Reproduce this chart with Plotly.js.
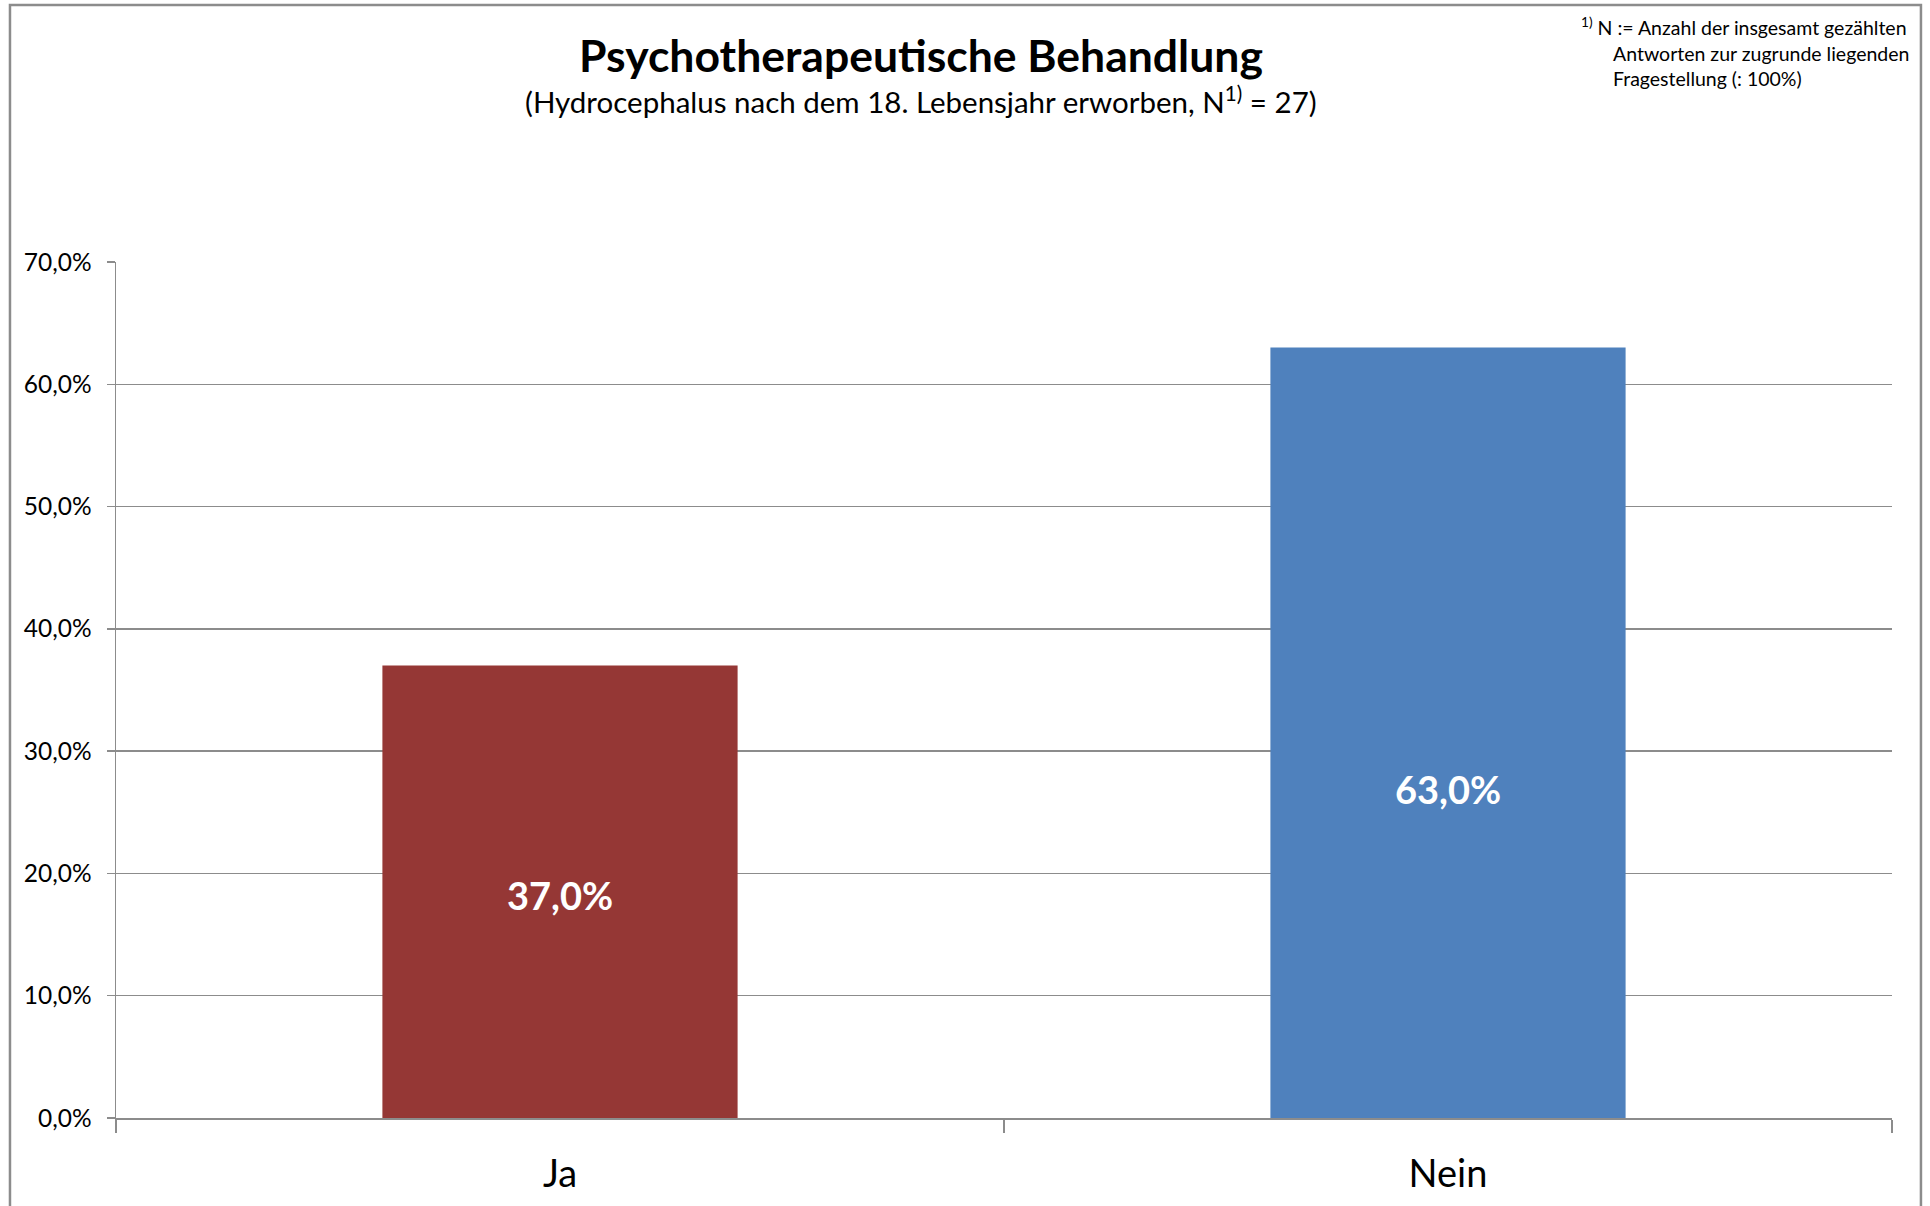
<!DOCTYPE html>
<html>
<head>
<meta charset="utf-8">
<script src="https://cdn.plot.ly/plotly-3.0.1.min.js"></script>
<style>
  html, body { margin: 0; padding: 0; background: #ffffff; }
  #chart { width: 1930px; height: 1206px; }
</style>
</head>
<body>
<div id="chart"></div>
<script>
// ---- data ----
const categories = ["Ja", "Nein"];
const shares = [0.370, 0.630];
const barColors = ["#953735", "#4F81BD"];
const yTickValues = [0, 0.1, 0.2, 0.3, 0.4, 0.5, 0.6, 0.7];
const titleText = "Psychotherapeutische Behandlung";
const subtitleText = "(Hydrocephalus nach dem 18. Lebensjahr erworben, N<sup>1)</sup> = 27)";
const footnoteLines = [
  "<sup>1)</sup> N := Anzahl der insgesamt gezählten",
  "Antworten zur zugrunde liegenden",
  "Fragestellung (: 100%)"
];

const FONT = "Lato, Carlito, Calibri, 'Open Sans', sans-serif";
const GRAY = "#8c8c8c";

// label placement inside the bars (fraction of bar height, as in the reference)
const labelFraction = [0.493, 0.427];

const fmt = v => (v * 100).toFixed(1).replace(".", ",") + "%";

const trace = {
  type: "bar",
  x: categories,
  y: shares,
  marker: { color: barColors, line: { width: 0 } },
  textposition: "none",
  hoverinfo: "x+y"
};

const barLabels = categories.map((c, i) => ({
  text: "<b>" + fmt(shares[i]) + "</b>",
  x: c, y: shares[i] * labelFraction[i],
  xref: "x", yref: "y",
  xanchor: "center", yanchor: "middle",
  showarrow: false,
  font: { family: FONT, size: 38, color: "#ffffff" }
}));

const layout = {
  width: 1930,
  height: 1206,
  margin: { l: 116, r: 38, t: 262, b: 88 },
  paper_bgcolor: "#ffffff",
  plot_bgcolor: "#ffffff",
  separators: ",.",
  showlegend: false,
  bargap: 0.6,
  font: { family: FONT, color: "#000000" },
  xaxis: {
    type: "category",
    showline: true,
    linecolor: GRAY,
    linewidth: 1.5,
    ticks: "outside",
    tickson: "boundaries",
    ticklen: 13,
    tickwidth: 1.5,
    tickcolor: GRAY,
    showgrid: false,
    zeroline: false,
    ticklabelstandoff: 22,
    tickfont: { family: FONT, size: 38, color: "#000000" }
  },
  yaxis: {
    range: [0, 0.7],
    tickvals: yTickValues,
    tickformat: ".1%",
    showline: true,
    linecolor: GRAY,
    linewidth: 1.5,
    ticks: "outside",
    ticklen: 8,
    tickwidth: 1.5,
    tickcolor: GRAY,
    showgrid: true,
    gridcolor: GRAY,
    gridwidth: 1.5,
    zeroline: false,
    ticklabelstandoff: 10,
    tickfont: { family: FONT, size: 24.5, color: "#000000" }
  },
  shapes: [
    {
      type: "rect", xref: "paper", yref: "paper",
      x0: -0.0597, x1: 1.0163, y0: -0.2, y1: 1.3002,
      line: { color: GRAY, width: 2.5 }, fillcolor: "rgba(0,0,0,0)", layer: "below"
    }
  ],
  annotations: [
    {
      text: "<b>" + titleText + "</b>", xref: "paper", yref: "paper",
      x: 0.4533, y: 1.2425, xanchor: "center", yanchor: "middle",
      showarrow: false, font: { family: FONT, size: 44.5, color: "#000000" }
    },
    {
      text: subtitleText, xref: "paper", yref: "paper",
      x: 0.4533, y: 1.1890, xanchor: "center", yanchor: "middle",
      showarrow: false, font: { family: FONT, size: 29.5, color: "#000000" }
    },
    {
      text: footnoteLines[0], xref: "paper", yref: "paper",
      x: 0.8238, y: 1.2750, xanchor: "left", yanchor: "middle",
      showarrow: false, font: { family: FONT, size: 19.5, color: "#000000" }
    },
    {
      text: footnoteLines[1], xref: "paper", yref: "paper",
      x: 0.8418, y: 1.2430, xanchor: "left", yanchor: "middle",
      showarrow: false, font: { family: FONT, size: 19.5, color: "#000000" }
    },
    {
      text: footnoteLines[2], xref: "paper", yref: "paper",
      x: 0.8418, y: 1.2140, xanchor: "left", yanchor: "middle",
      showarrow: false, font: { family: FONT, size: 19.5, color: "#000000" }
    }
  ].concat(barLabels)
};

Plotly.newPlot("chart", [trace], layout, { displayModeBar: false, staticPlot: true });
</script>
</body>
</html>
